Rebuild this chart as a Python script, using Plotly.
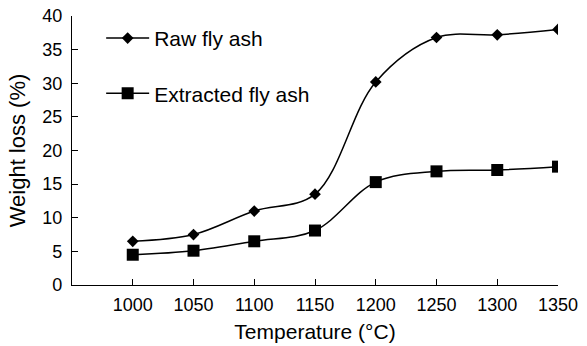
import plotly.graph_objects as go

temperature = [1000, 1050, 1100, 1150, 1200, 1250, 1300, 1350]
raw_loss = [6.5, 7.5, 11.0, 13.5, 30.2, 36.8, 37.2, 38.0]
extracted_loss = [4.5, 5.1, 6.5, 8.1, 15.3, 16.9, 17.1, 17.6]
y_ticks = [0, 5, 10, 15, 20, 25, 30, 35, 40]

FONT = "Liberation Sans, Arial, sans-serif"

fig = go.Figure()
fig.add_trace(go.Scatter(
    x=temperature, y=raw_loss, name="Raw fly ash", legendgroup="a",
    mode="lines+markers",
    line=dict(color="black", width=1.5, shape="spline", smoothing=1.0),
    marker=dict(symbol="diamond", size=9, color="black"),
))
fig.add_trace(go.Scatter(
    x=temperature, y=extracted_loss, name="Extracted fly ash", legendgroup="b",
    mode="lines+markers",
    line=dict(color="black", width=1.5, shape="spline", smoothing=1.0),
    marker=dict(symbol="square", size=12, color="black"),
))

fig.update_layout(
    width=587, height=346,
    margin=dict(l=72, r=29, t=16, b=61),
    paper_bgcolor="white", plot_bgcolor="white",
    font=dict(family=FONT, size=18, color="black"),
    legend=dict(x=0.06, y=0.993, xanchor="left", yanchor="top",
                bgcolor="rgba(0,0,0,0)", tracegroupgap=25,
                itemwidth=43, font=dict(size=21)),
    showlegend=True,
)
fig.update_xaxes(
    range=[950, 1350], tickvals=temperature, ticktext=[str(t) for t in temperature],
    showgrid=False, zeroline=False, showline=True, linecolor="black", linewidth=1.3,
    ticks="inside", ticklen=6, tickcolor="black", ticklabelstandoff=3,
    automargin=False,
    title=dict(text="Temperature (°C)", font=dict(size=21), standoff=10),
)
fig.update_yaxes(
    range=[0, 40], tickvals=y_ticks,
    showgrid=False, zeroline=False, showline=True, linecolor="black", linewidth=1.3,
    ticks="inside", ticklen=6, tickcolor="black", ticklabelstandoff=5,
    automargin=False,
    title=dict(text="Weight loss (%)", font=dict(size=22), standoff=10),
)

fig.write_html("out.html")
